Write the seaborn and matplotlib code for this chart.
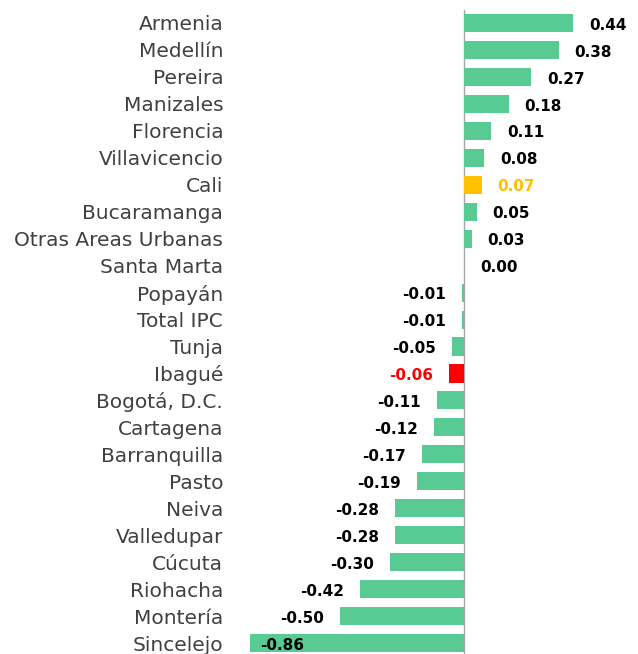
import matplotlib.pyplot as plt
import seaborn as sns
from matplotlib.ticker import FixedLocator

# Data
cities = [
    "Armenia", "Medellín", "Pereira", "Manizales", "Florencia", "Villavicencio",
    "Cali", "Bucaramanga", "Otras Areas Urbanas", "Santa Marta", "Popayán",
    "Total IPC", "Tunja", "Ibagué", "Bogotá, D.C.", "Cartagena", "Barranquilla",
    "Pasto", "Neiva", "Valledupar", "Cúcuta", "Riohacha", "Montería", "Sincelejo",
]
values = [
    0.44, 0.38, 0.27, 0.18, 0.11, 0.08, 0.07, 0.05, 0.03, 0.00, -0.01,
    -0.01, -0.05, -0.06, -0.11, -0.12, -0.17, -0.19, -0.28, -0.28, -0.30,
    -0.42, -0.50, -0.86,
]
highlight = {"Cali": "#FFC000", "Ibagué": "#FF0000"}

GREEN = "#58CB94"
colors = [highlight.get(c, GREEN) for c in cities]
label_colors = [highlight.get(c, "black") for c in cities]

sns.set_style("white")
plt.rcParams["font.family"] = ["DejaVu Sans"]

fig = plt.figure(figsize=(6.38, 6.54), dpi=100)
ax = fig.add_axes([248 / 638, 1 - 656.6 / 654, 390 / 638, 647.1 / 654])

sns.barplot(
    x=values, y=cities, hue=cities, palette=colors, legend=False,
    orient="h", width=0.67, ax=ax, saturation=1, linewidth=0,
)

ax.set_xlim(-0.87, 0.70)
ax.set_ylim(len(cities) - 0.5, -0.5)

for s in ["top", "right", "bottom"]:
    ax.spines[s].set_visible(False)
ax.spines["left"].set_position(("data", 0))
ax.spines["left"].set_color("#A6A6A6")
ax.spines["left"].set_linewidth(1.0)
ax.spines["left"].set_zorder(0.5)
ax.set_xticks([])
ax.set_xlabel("")
ax.set_ylabel("")

# category labels, far left of the zero axis
ax.tick_params(axis="y", which="major", length=0, pad=173.5,
               labelsize=14.5, labelcolor="#404040")
ax.yaxis.set_minor_locator(FixedLocator([i + 0.5 for i in range(-1, len(cities))]))
ax.tick_params(axis="y", which="minor", length=4.5, width=1, color="#A6A6A6",
               direction="out")

off = 0.064
for i, (v, lc) in enumerate(zip(values, label_colors)):
    txt = f"{v:.2f}"
    if v >= 0:
        ax.text(v + off, i + 0.08, txt, ha="left", va="center", fontsize=11,
                fontweight="bold", color=lc)
    elif v - off < -0.86:
        ax.text(v + 0.04, i + 0.08, txt, ha="left", va="center", fontsize=11,
                fontweight="bold", color=lc)
    else:
        ax.text(v - off, i + 0.08, txt, ha="right", va="center", fontsize=11,
                fontweight="bold", color=lc)

plt.savefig("out.png", dpi=100)
